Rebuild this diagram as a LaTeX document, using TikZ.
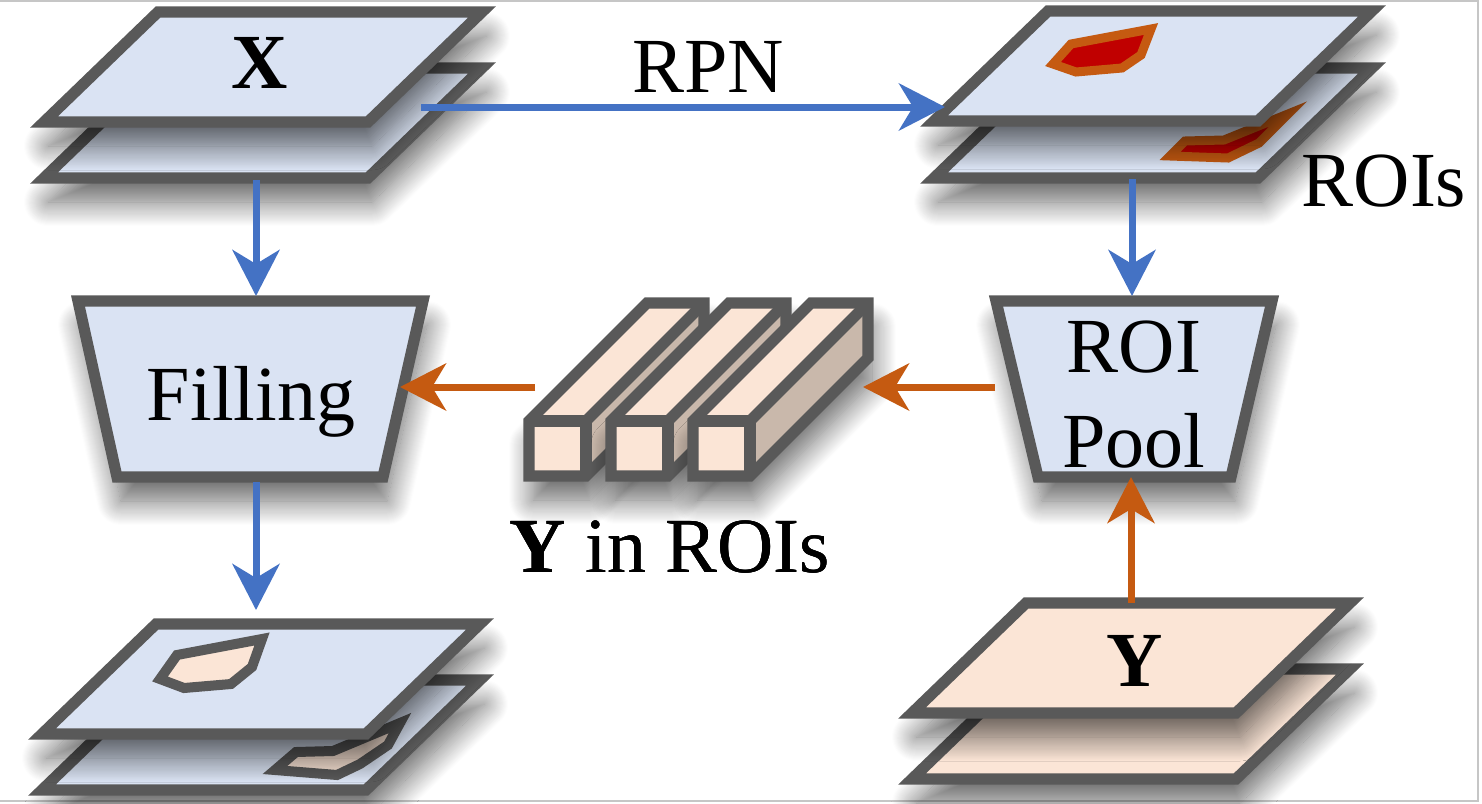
\documentclass[tikz,border=0pt]{standalone}
\usepackage{fontspec}
\setmainfont{Liberation Serif}
\usetikzlibrary{arrows.meta}
\usetikzlibrary{shadows.blur}
\usetikzlibrary{calc,positioning}

\definecolor{planeblue}{HTML}{DAE3F3}
\definecolor{peach}{HTML}{FBE5D6}
\definecolor{peachdark}{HTML}{C9B8AB}
\definecolor{edgegray}{HTML}{595959}
\definecolor{arrowblue}{HTML}{4472C4}
\definecolor{arroworange}{HTML}{C55A11}
\definecolor{roired}{HTML}{C00000}

% one sheet of a feature map, #1 = lower left corner, #2 = fill
\newcommand{\drawplane}[2]{%
  \draw[plane, fill=#2] (#1) -- ++(324,0) -- ++(114,-110) -- ++(-324,0) -- cycle;
}
% one bar of the pooled output, #1 = front lower left corner
\newcommand{\drawbar}[1]{%
  \fill[softshadow, peach] (#1) -- ++(0,-55) -- ++(118,-118) -- ++(57,0) -- ++(0,55) -- ++(-118,118) -- cycle;
  \fill[peachdark] ($(#1)+(57,0)$) -- ++(0,-55) -- ++(118,-118) -- ++(0,55) -- cycle;
  \draw[edge] (#1) -- ++(0,-55) -- ++(118,-118) -- ++(57,0) -- ++(0,55) -- ++(-118,118) -- cycle;
  \draw[edge] ($(#1)+(0,-55)$) -- ++(57,0) -- ++(0,55);
  \draw[edge] ($(#1)+(57,-55)$) -- ++(118,-118);
}

\begin{document}
\begin{tikzpicture}[x=0.5pt, y=-0.5pt]
    \def\lw{5.6pt}

    \tikzstyle{softshadow}=[blur shadow={shadow xshift=2pt, shadow yshift=-12pt,
      shadow blur radius=12pt, shadow blur steps=24, shadow opacity=60}]
    \tikzstyle{edge}=[draw=edgegray, line width=\lw, line join=miter]
    \tikzstyle{plane}=[edge, softshadow]
    \tikzstyle{txt}=[inner sep=0pt, font=\fontsize{39pt}{47.5pt}\selectfont]
    \tikzstyle{roi}=[draw=arroworange, fill=roired, line width=4.5pt, line join=miter]
    \tikzstyle{hole}=[draw=edgegray, fill=peach, line width=5pt, line join=miter]
    \tikzstyle{bluearrow}=[draw=arrowblue, line width=3.5pt,
      -{Stealth[length=23pt, width=23.5pt, inset=7pt, fill=arrowblue]}]
    \tikzstyle{orangearrow}=[draw=arroworange, line width=3.5pt,
      -{Stealth[length=23pt, width=23.5pt, inset=7pt, fill=arroworange]}]

    \useasboundingbox (0,0) rectangle (1482,803);
    \draw[gray!45, line width=1pt] (0,1) -- (1478,1) -- (1478,801) -- (0,801);

    % Input X
    \drawplane{44,178}{planeblue}
    \drawplane{44,122}{planeblue}
    \node[txt, anchor=base] (xlab) at (260,88) {\textbf{X}};

    % Proposals
    \drawplane{934,178}{planeblue}
    \draw[roi] (1170,156) -- (1185,141) -- (1224,140) -- (1288,114) -- (1259,143) -- (1228,158) -- cycle;
    \drawplane{934,121}{planeblue}
    \draw[roi] (1053,64) -- (1071,44) -- (1151,29) -- (1141,55) -- (1122,68) -- (1076,72) -- cycle;
    \node[txt, anchor=base] (rois) at (1384,206) {ROIs};

    % Target Y
    \drawplane{912,779}{peach}
    \drawplane{912,713}{peach}
    \node[txt, anchor=base] (ylab) at (1135,686) {\textbf{Y}};

    % Output
    \drawplane{42,790}{planeblue}
    \draw[hole] (275,770) -- (296,752) -- (333,751) -- (400,723) -- (388,745) -- (360,764) -- (337,775) -- cycle;
    \drawplane{42,734}{planeblue}
    \draw[hole] (160,679) -- (177,655) -- (262,639) -- (252,667) -- (231,684) -- (184,688) -- cycle;

    % Blocks
    \draw[plane, fill=planeblue] (78,301) -- (423,301) -- (383,477) -- (117,477) -- cycle;
    \node[txt, anchor=base] (filling) at (251,420) {Filling};
    \draw[plane, fill=planeblue] (996,301) -- (1272,301) -- (1231,477) -- (1038,477) -- cycle;
    \node[txt, anchor=base, align=center] (pool) at (1134,467) {ROI\\Pool};

    % Pooled Y
    \foreach \i in {0,1,2}
      \drawbar{529+82*\i,476}
    \node[txt, anchor=base] (yroi) at (670,572) {\textbf{Y} in ROIs};

    % Arrows
    \coordinate (xout) at (256,180);
    \coordinate (fillN) at (256,296);
    \coordinate (fillS) at (256,482);
    \coordinate (fillE) at (400,387);
    \coordinate (outin) at (256,610);
    \coordinate (xright) at (421,107);
    \coordinate (roisin) at (945,107);
    \coordinate (roisout) at (1132,179);
    \coordinate (poolN) at (1132,296);
    \coordinate (poolS) at (1131,477);
    \coordinate (poolW) at (995,387);
    \coordinate (yout) at (1131,603);
    \coordinate (barsin) at (863,387);
    \coordinate (barsout) at (535,387);

    \draw[bluearrow] (xout) -- (fillN);
    \draw[bluearrow] (fillS) -- (outin);
    \draw[bluearrow] (xright) -- (roisin);
    \node[txt, anchor=base] (rpn) at (708,92) {RPN};
    \draw[bluearrow] (roisout) -- (poolN);
    \draw[orangearrow] (yout) -- (poolS);
    \draw[orangearrow] (poolW) -- (barsin);
    \draw[orangearrow] (barsout) -- (fillE);
\end{tikzpicture}
\end{document}
